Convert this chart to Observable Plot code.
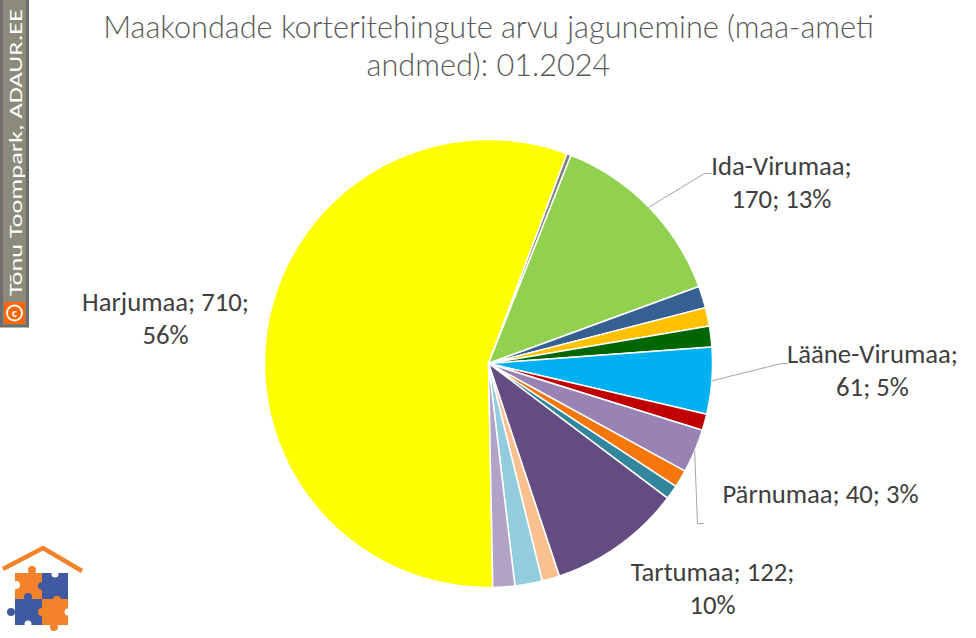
<!DOCTYPE html>
<html><head><meta charset="utf-8">
<script src="https://cdn.jsdelivr.net/npm/d3@7"></script>
<script src="https://cdn.jsdelivr.net/npm/@observablehq/plot@0.6"></script>
<style>
html,body{margin:0;padding:0;background:#fff;}
#wrap{position:relative;width:976px;height:638px;overflow:hidden;background:#fff;}
#wrap svg{position:absolute;left:0;top:0;}
</style></head><body><div id="wrap"></div>
<script>
// ---- data ----
const counties = ["Harjumaa","Hiiumaa","Ida-Virumaa","Jõgevamaa","Järvamaa","Läänemaa","Lääne-Virumaa","Põlvamaa","Pärnumaa","Raplamaa","Saaremaa","Tartumaa","Valgamaa","Viljandimaa","Võrumaa"];
const deals = [710,4,170,20,17,19,61,15,40,16,13,122,16,25,20];
const sliceColors = ["#FFFF00","#7F7F7F","#92D050","#376092","#FFC000","#006600","#00B0F0","#C00000","#9983B5","#F5760A","#31859C","#624C82","#FAC090","#93CDDD","#B3A2C7"];
const titleLines = ["Maakondade korteritehingute arvu jagunemine (maa-ameti","andmed): 01.2024"];
const watermark = "Tõnu Toompark, ADAUR.EE";

// ---- layout ----
const CX = 488, CY = 363, R = 224, W = 976, H = 638;
const startDeg = 178.9;
const FONT = "Calibri, Carlito, Lato, sans-serif";
const FONT_T = "'Calibri Light', 'Lato Light', 'Open Sans Light', Lato, sans-serif";
// label placement (pixels): center x, last-line baseline, break after "name" or "value", leader elbow
const labelLayout = {
  "Harjumaa":      {x:165, y:343, brk:"value"},
  "Ida-Virumaa":   {x:781, y:207, brk:"name",  elbow:[704,173], end:[711,173]},
  "Lääne-Virumaa": {x:872, y:395, brk:"name",  elbow:[781,363], end:[787,363]},
  "Pärnumaa":      {x:820, y:502, brk:"none",  elbow:[697,523], end:[703,523]},
  "Tartumaa":      {x:712, y:613, brk:"value"}
};
const ux = px => (px - CX) / R, uy = py => (CY - py) / R;

// ---- font fitting via canvas ----
const ctx = document.createElement("canvas").getContext("2d");
function fit(text, weight, family, target) { ctx.font = `${weight} 100px ${family}`; return 100 * target / ctx.measureText(text).width; }
const titleSize = fit(titleLines[0], 300, FONT_T, 771);
const labelSize = fit("Lääne-Virumaa;", 400, FONT, 171);

// ---- slices ----
const total = d3.sum(deals);
let acc = startDeg;
const slices = counties.map((name, i) => {
  const a0 = acc, a1 = acc + deals[i] / total * 360; acc = a1;
  const ring = [[0,0]];
  const n = Math.max(2, Math.ceil((a1 - a0) / 0.5));
  for (let k = 0; k <= n; k++) { const a = (a0 + (a1 - a0) * k / n) * Math.PI / 180; ring.push([Math.sin(a), Math.cos(a)]); }
  ring.push([0,0]);
  return {type:"Feature", properties:{name, value:deals[i], color:sliceColors[i], mid:(a0+a1)/2}, geometry:{type:"Polygon", coordinates:[ring]}};
});
const circleRing = d3.range(0, 721).map(k => { const a = k * 0.5 * Math.PI / 180; return [Math.sin(a), Math.cos(a)]; });
const domain = {type:"Polygon", coordinates:[circleRing]};

const labels = [], leaders = [];
slices.forEach(s => {
  const L = labelLayout[s.properties.name]; if (!L) return;
  const {name, value, mid} = s.properties;
  const pct = Math.round(value / total * 100) + "%";
  let text;
  if (L.brk === "name") text = `${name};\n${value}; ${pct}`;
  else if (L.brk === "value") text = `${name}; ${value};\n${pct}`;
  else text = `${name}; ${value}; ${pct}`;
  labels.push({x: ux(L.x), y: uy(L.y), text});
  if (L.elbow) {
    const a = mid * Math.PI / 180;
    leaders.push({type:"Feature", properties:{}, geometry:{type:"LineString", coordinates:[[Math.sin(a), Math.cos(a)], [ux(L.elbow[0]), uy(L.elbow[1])], [ux(L.end[0]), uy(L.end[1])]]}});
  }
});

const plot = Plot.plot({
  width: W, height: H,
  marginLeft: CX - R, marginRight: W - CX - R, marginTop: CY - R, marginBottom: H - CY - R,
  projection: {type: "reflect-y", domain, clip: false},
  style: {background: "transparent", fontFamily: FONT, overflow: "visible"},
  marks: [
    Plot.geo(slices, {fill: d => d.properties.color, stroke: "white", strokeWidth: 1.5, strokeLinejoin: "round"}),
    Plot.geo(leaders, {stroke: "#A6A6A6", strokeWidth: 1, fill: "none"}),
    Plot.text(labels, {x: "x", y: "y", text: "text", textAnchor: "middle", lineAnchor: "bottom", fontSize: labelSize, lineHeight: 32.5 / labelSize, fill: "#404040"}),
    Plot.text([titleLines.join("\n")], {x: () => ux(488), y: () => uy(75), text: d => d, textAnchor: "middle", lineAnchor: "bottom", fontSize: titleSize, fontWeight: 300, fontFamily: FONT_T, lineHeight: 38 / titleSize, fill: "#595959"})
  ]
});
const wrap = document.getElementById("wrap");
wrap.appendChild(plot);

// ---- decorations: watermark and logo ----
const ns = "http://www.w3.org/2000/svg";
const deco = document.createElementNS(ns, "svg");
deco.setAttribute("width", W); deco.setAttribute("height", H);
deco.innerHTML = `
  <rect x="1.5" y="-3" width="26" height="329" fill="#8B8A7B" stroke="#6E6E6E" stroke-width="3"/>
  <rect x="4" y="302" width="21" height="22" fill="#FF6600"/>
  <circle cx="14.5" cy="313" r="7.5" fill="none" stroke="#fff" stroke-width="1.8"/>
  <text x="14.5" y="317" text-anchor="middle" fill="#fff" font-size="12" font-weight="bold" font-family="${FONT}">c</text>
  <text transform="translate(22,296) rotate(-90)" fill="#fff" font-size="18.5" textLength="287" lengthAdjust="spacingAndGlyphs" font-family="${FONT}">${watermark}</text>
  <g>
    <polyline points="3,569 43,548 82,571" fill="none" stroke="#F4822A" stroke-width="4.5"/>
    <rect x="15" y="573" width="27" height="26" fill="#F4822A"/>
    <rect x="42" y="573" width="26" height="26" fill="#3F5AA0"/>
    <rect x="15" y="599" width="27" height="26" fill="#3F5AA0"/>
    <rect x="42" y="599" width="26" height="26" fill="#F4822A"/>
    <circle cx="32" cy="570" r="4" fill="#F4822A"/>
    <circle cx="16" cy="585" r="4" fill="#fff"/>
    <circle cx="42" cy="586" r="4" fill="#3F5AA0"/>
    <circle cx="55" cy="574" r="3.5" fill="#fff"/>
    <circle cx="28" cy="597" r="4" fill="#3F5AA0"/>
    <circle cx="11" cy="612" r="4" fill="#3F5AA0"/>
    <circle cx="28" cy="624" r="3.5" fill="#fff"/>
    <circle cx="42" cy="612" r="4" fill="#F4822A"/>
    <circle cx="57" cy="600" r="4" fill="#F4822A"/>
    <circle cx="54" cy="627" r="4" fill="#F4822A"/>
    <circle cx="68" cy="612" r="3.5" fill="#fff"/>
  </g>`;
wrap.appendChild(deco);
</script>
</body></html>
